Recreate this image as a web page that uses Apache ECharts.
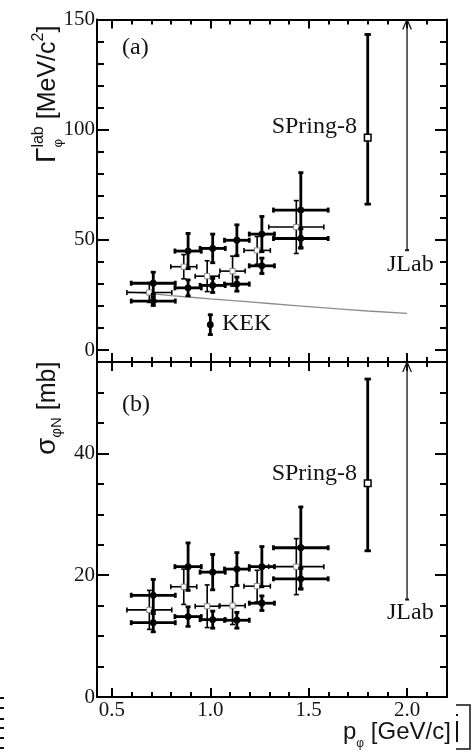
<!DOCTYPE html>
<html>
<head>
<meta charset="utf-8">
<script src="https://cdn.jsdelivr.net/npm/echarts@6/dist/echarts.min.js"></script>
<style>
  html, body { margin: 0; padding: 0; background: #fff; }
  #c { width: 473px; height: 752px; }
</style>
</head>
<body>
<div id="c"></div>
<script>
// ---- momentum bins (GeV/c) ----
const pFilled   = [0.71, 0.887, 1.012, 1.135, 1.262, 1.46];
const pFilledErr = [0.112, 0.067, 0.064, 0.063, 0.064, 0.139];
const pOpen     = [0.69, 0.865, 0.984, 1.113, 1.238, 1.437];
const pOpenErr  = [0.114, 0.066, 0.061, 0.064, 0.067, 0.14];

// ---- panel (a): in-medium width Γ_φ^lab (MeV/c²) ----
const gammaUpper    = [30.3, 44.9, 46.1, 49.8, 52.6, 63.5];
const gammaUpperErr = [5.0, 8.0, 6.5, 7.0, 8.0, 17.0];
const gammaOpen     = [26.1, 37.8, 33.5, 35.8, 45.2, 55.8];
const gammaOpenErr  = [4.5, 5.5, 7.0, 6.8, 6.3, 12.0];
const gammaLower    = [22.2, 28.2, 29.3, 29.9, 38.2, 50.6];
const gammaLowerErr = [2.0, 3.6, 3.2, 3.2, 3.5, 4.4];

// model curve in panel (a)
const pCurve     = [0.58, 0.7, 0.8, 1.0, 1.2, 1.4, 1.6, 1.8, 2.0];
const gammaCurve = [26.4, 25.5, 24.7, 23.2, 21.8, 20.4, 19.0, 17.7, 16.6];

// other experiments, panel (a): [p, value, errLow, errHigh]
const kekA     = [1.0, 11.5, 4.5, 4.5];
const spring8A = [1.8, 96.4, 30.2, 46.8];
const jlabA    = [2.0, 45.3];          // lower limit

// ---- panel (b): φN cross section σ_φN (mb) ----
const sigmaUpper    = [16.7, 21.4, 20.5, 21.0, 21.4, 24.5];
const sigmaUpperErr = [2.6, 3.9, 2.9, 2.7, 3.3, 6.7];
const sigmaOpen     = [14.3, 18.1, 14.9, 15.0, 18.2, 21.4];
const sigmaOpenErr  = [3.2, 2.9, 3.5, 3.1, 2.6, 4.6];
const sigmaLower    = [12.2, 13.2, 12.7, 12.6, 15.4, 19.4];
const sigmaLowerErr = [1.5, 1.6, 1.4, 1.3, 1.2, 1.7];

const spring8B = [1.8, 35.1, 11.1, 17.1];
const jlabB    = [2.0, 16.0];

// axis ranges
const X_MIN = 0.424, X_MAX = 2.203;
const A_MIN = -5.45, A_MAX = 150;
const B_MIN = 0, B_MAX = 55;

// ---------------------------------------------------------------
const INK = '#141414';
const SERIF = 'Liberation Serif';
const SANS = 'Liberation Sans';

function rows(xs, dxs, ys, dys) {
  return xs.map((x, i) => [x, ys[i], dxs[i], dys[i], dys[i]]);
}

function errorBars(opt) {
  return function (params, api) {
    const x = api.value(0), y = api.value(1);
    const dx = api.value(2), lo = api.value(3), hi = api.value(4);
    const c = api.coord([x, y]);
    const st = { stroke: opt.color, lineWidth: opt.width };
    const kids = [];
    const seg = (x1, y1, x2, y2) => kids.push({ type: 'line', shape: { x1, y1, x2, y2 }, style: st });
    const k = opt.cap;
    if (dx > 0) {
      const l = api.coord([x - dx, y])[0], r = api.coord([x + dx, y])[0];
      seg(l, c[1], r, c[1]);
      seg(l, c[1] - k, l, c[1] + k);
      seg(r, c[1] - k, r, c[1] + k);
    }
    const t = api.coord([x, y + hi])[1], b = api.coord([x, y - lo])[1];
    seg(c[0], t, c[0], b);
    seg(c[0] - k, t, c[0] + k, t);
    seg(c[0] - k, b, c[0] + k, b);
    if (opt.marker === 'circle') {
      kids.push({ type: 'circle', shape: { cx: c[0], cy: c[1], r: opt.size }, style: { fill: opt.color } });
    } else {
      kids.push({ type: 'rect', shape: { x: c[0] - opt.size, y: c[1] - opt.size, width: 2 * opt.size, height: 2 * opt.size },
                  style: { fill: '#fff', stroke: opt.mstroke, lineWidth: opt.mwidth } });
    }
    return { type: 'group', children: kids };
  };
}

// lower limit drawn as a line up to the frame with an arrow head
function limitArrow(params, api) {
  const c = api.coord([api.value(0), api.value(1)]);
  const top = params.coordSys.y;
  const st = { stroke: INK, lineWidth: 1.3 };
  return {
    type: 'group',
    children: [
      { type: 'line', shape: { x1: c[0], y1: c[1], x2: c[0], y2: top }, style: st },
      { type: 'line', shape: { x1: c[0] - 4.3, y1: top + 10, x2: c[0], y2: top }, style: st },
      { type: 'line', shape: { x1: c[0] + 4.3, y1: top + 10, x2: c[0], y2: top }, style: st },
      { type: 'line', shape: { x1: c[0] - 2, y1: c[1], x2: c[0] + 2, y2: c[1] }, style: { stroke: INK, lineWidth: 2 } }
    ]
  };
}

const filledStyle = { color: '#000', width: 2.8, cap: 2.5, marker: 'circle', size: 3.4 };
const openStyle   = { color: '#000', width: 1.6, cap: 2.5, marker: 'square', size: 2.6, mstroke: '#8a8a8a', mwidth: 1 };
const refStyle    = { color: '#000', width: 2.8, cap: 3.2, marker: 'square', size: 3.3, mstroke: '#000', mwidth: 1.5 };
const kekStyle    = { color: '#000', width: 2.8, cap: 2.5, marker: 'circle', size: 3.4 };

function custom(xi, yi, data, render, z) {
  return { type: 'custom', xAxisIndex: xi, yAxisIndex: yi, data, renderItem: render,
           encode: { x: 0, y: 1 }, z: z || 2, clip: false, silent: true };
}

// ---- axes ----
const tickLine = { color: '#000', width: 2 };
const isMult = (v, m) => Math.abs(v / m - Math.round(v / m)) < 1e-6;

function xAxis(grid, pos, labels) {
  return {
    type: 'value', gridIndex: grid, position: pos, min: X_MIN, max: X_MAX,
    splitNumber: 4, minInterval: 0.5, maxInterval: 0.5,
    axisLine: { show: true, onZero: false, lineStyle: { color: '#000', width: 2 } },
    axisTick: { show: true, inside: true, length: 9, lineStyle: tickLine },
    minorTick: { show: true, splitNumber: 5, length: 5, lineStyle: tickLine },
    splitLine: { show: false }, minorSplitLine: { show: false },
    axisLabel: { show: labels, margin: 3, fontFamily: SERIF, fontSize: 21, color: INK,
                 formatter: v => isMult(v, 0.5) ? v.toFixed(1) : '' }
  };
}
function yAxis(grid, pos, min, max, major, labels) {
  return {
    type: 'value', gridIndex: grid, position: pos, min, max,
    splitNumber: Math.round((max - min) / major), minInterval: major, maxInterval: major,
    axisLine: { show: true, onZero: false, lineStyle: { color: '#000', width: 2 } },
    axisTick: { show: true, inside: true, length: 12, lineStyle: tickLine },
    minorTick: { show: true, splitNumber: major === 50 ? 5 : 4, length: 7, lineStyle: tickLine },
    splitLine: { show: false }, minorSplitLine: { show: false },
    axisLabel: { show: labels, margin: 2, fontFamily: SERIF, fontSize: 21, color: INK,
                 formatter: v => isMult(v, major) ? String(Math.round(v)) : '' }
  };
}

// ---- text helpers ----
const meas = document.createElement('canvas').getContext('2d');
// lays out runs along a baseline; dy is the baseline shift of each run
function runs(segs) {
  let x = 0;
  const out = [];
  for (const s of segs) {
    const fam = s.family || SANS;
    out.push({ type: 'text', x, y: (s.dy || 0) - 0.31 * s.size,
               style: { text: s.t, fontFamily: fam, fontSize: s.size, fill: INK, align: 'left', verticalAlign: 'middle' } });
    meas.font = s.size + 'px "' + fam + '"';
    x += (s.adv !== undefined) ? s.adv : meas.measureText(s.t).width;
  }
  return out;
}
function label(text, x, y, align) {
  return { type: 'text', x, y: y - 0.31 * 24,
           style: { text, fontFamily: SERIF, fontSize: 24, fill: INK, align: align || 'left', verticalAlign: 'middle' } };
}

const T = 25; // axis-title size
const graphic = [
  // Γ_φ^lab [MeV/c²]
  { type: 'group', x: 56, y: 163, rotation: Math.PI / 2,
    children: runs([
      { t: 'Γ', size: T + 3 },
      { t: 'φ', size: 13, dy: 6, adv: 0 },
      { t: 'lab', size: 16, dy: -12 },
      { t: ' [MeV/c', size: T },
      { t: '2', size: 16, dy: -12 },
      { t: ']', size: T }
    ]) },
  // σ_φN [mb]
  { type: 'group', x: 56, y: 455, rotation: Math.PI / 2,
    children: runs([
      { t: 'σ', size: T + 3 },
      { t: 'φN', size: 15, dy: 6 },
      { t: ' [mb]', size: T }
    ]) },
  // p_φ [GeV/c]
  { type: 'group', x: 343, y: 740,
    children: runs([
      { t: 'p', size: 24 },
      { t: 'φ', size: 12, dy: 7 },
      { t: ' [GeV/c]', size: 24 }
    ]) },
  label('(a)', 122, 55),
  label('(b)', 122, 412),
  label('SPring-8', 357, 134, 'right'),
  label('SPring-8', 357, 481, 'right'),
  label('JLab', 387, 272),
  label('JLab', 387, 620),
  label('KEK', 222, 331),
  // fragments of neighbouring page content at the edges
  { type: 'group', children: [698, 708, 719, 728, 738, 748].map(y => ({
      type: 'rect', shape: { x: 0, y: y - 1, width: 4, height: 2 }, style: { fill: '#111' } })) },
  { type: 'polyline', shape: { points: [[456, 705], [470, 705], [470, 749], [456, 749]] },
    style: { stroke: '#111', lineWidth: 1.5, fill: null } },
  { type: 'rect', shape: { x: 456, y: 714, width: 2, height: 2 }, style: { fill: '#111' } },
  { type: 'rect', shape: { x: 456, y: 721, width: 2, height: 21 }, style: { fill: '#111' } }
];

const option = {
  animation: false,
  backgroundColor: '#fff',
  grid: [
    { left: 97, top: 19.5, width: 350, height: 342.5, containLabel: false },
    { left: 97, top: 362, width: 350, height: 335, containLabel: false }
  ],
  xAxis: [
    xAxis(0, 'bottom', false),
    xAxis(0, 'top', false),
    xAxis(1, 'bottom', true),
    xAxis(1, 'top', false)
  ],
  yAxis: [
    yAxis(0, 'left', A_MIN, A_MAX, 50, true),
    yAxis(0, 'right', A_MIN, A_MAX, 50, false),
    yAxis(1, 'left', B_MIN, B_MAX, 20, true),
    yAxis(1, 'right', B_MIN, B_MAX, 20, false)
  ],
  series: [
    { type: 'line', xAxisIndex: 0, yAxisIndex: 0, smooth: true, showSymbol: false, silent: true,
      data: pCurve.map((p, i) => [p, gammaCurve[i]]),
      lineStyle: { color: '#8c8c8c', width: 1.3 }, z: 1 },
    custom(0, 0, rows(pOpen, pOpenErr, gammaOpen, gammaOpenErr), errorBars(openStyle), 2),
    custom(0, 0, rows(pFilled, pFilledErr, gammaUpper, gammaUpperErr), errorBars(filledStyle), 3),
    custom(0, 0, rows(pFilled, pFilledErr, gammaLower, gammaLowerErr), errorBars(filledStyle), 3),
    custom(0, 0, [[kekA[0], kekA[1], 0, kekA[2], kekA[3]]], errorBars(kekStyle), 3),
    custom(0, 0, [[spring8A[0], spring8A[1], 0, spring8A[2], spring8A[3]]], errorBars(refStyle), 3),
    custom(0, 0, [jlabA], limitArrow, 3),

    custom(2, 2, rows(pOpen, pOpenErr, sigmaOpen, sigmaOpenErr), errorBars(openStyle), 2),
    custom(2, 2, rows(pFilled, pFilledErr, sigmaUpper, sigmaUpperErr), errorBars(filledStyle), 3),
    custom(2, 2, rows(pFilled, pFilledErr, sigmaLower, sigmaLowerErr), errorBars(filledStyle), 3),
    custom(2, 2, [[spring8B[0], spring8B[1], 0, spring8B[2], spring8B[3]]], errorBars(refStyle), 3),
    custom(2, 2, [jlabB], limitArrow, 3)
  ],
  graphic
};

const chart = echarts.init(document.getElementById('c'), null, { renderer: 'canvas' });
chart.setOption(option);
</script>
</body>
</html>
